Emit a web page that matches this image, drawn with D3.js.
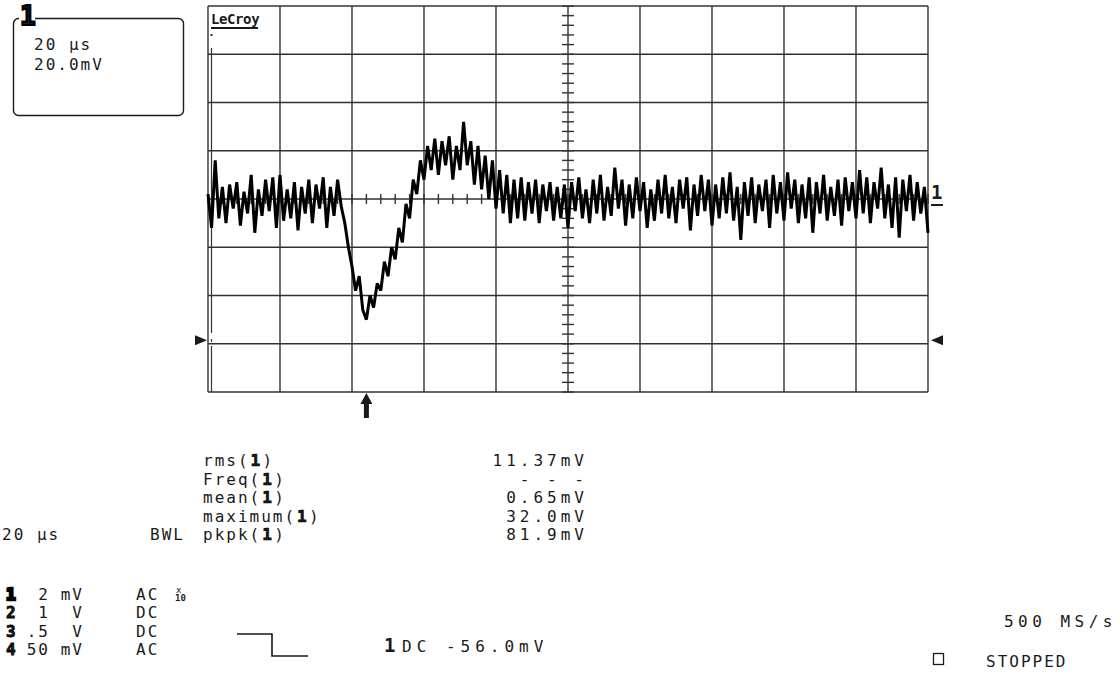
<!DOCTYPE html>
<html>
<head>
<meta charset="utf-8">
<script src="https://cdn.jsdelivr.net/npm/d3@7"></script>
<style>
  body { margin: 0; background: #fff; }
  svg text { font-family: "DejaVu Sans Mono", monospace; font-size: 16px; fill: #1a1a1a; letter-spacing: 2px; }
  .b { font-weight: bold; }
  .wide { letter-spacing: 4px; }
</style>
</head>
<body>
<svg id="scope" width="1120" height="679"></svg>
<script>
// Channel 1 trace in mV, one sample per µs, 0..200 µs
const trace = [
  2, -12, 16, -8, 5, -10, 6, -4, 7, -11,
  3, -6, 10, -14, 4, -7, 8, -5, 9, -12,
  10, -9, 4, -8, 7, -13, 5, -6, 8, -10,
  6, -4, 9, -12, 5, -7, 8, -3,
  -10, -20, -28, -38, -32, -46, -50,
  -40, -45, -35, -38, -26, -32, -20, -25, -12, -18,
  -2, -8, 8, 2, 16, 8, 22, 12, 25, 10,
  24, 14, 26, 8, 22, 12, 32, 14, 24, 6,
  22, 4, 18, 0, 16, -4, 12, -6, 10, -10,
  8, -8, 9, -9, 7, -6, 8, -10, 6, -5,
  7, -9, 5, -8, 6,
  -12, 7, -5, 9, -8, 4, -10, 8, -6, 10,
  -9, 5, -7, 13, -4, 8, -11, 6, -8, 9,
  -5, 7, -12, 4, -9, 8, -6, 10, -8, 5,
  -10, 8, -4, 9, -13, 6, -7, 10, -5, 8,
  -11, 6, -8, 9, -6, 11, -9, 5, -17, 7,
  -7, 9, -10, 6, -5, 8, -12, 10, -6, 7,
  -9, 11, -4, 8, -10, 6, -8, 9, -14, 7,
  -6, 10, -9, 5, -7, 8, -11, 9, -5, 7,
  -8, 12, -6, 9, -10, 7, -4, 13, -8, 6,
  -12, 9, -16, 8, -5, 10, -9, 7, -6, 5, -14
];

const timeDiv = 20;        // µs per division
const voltDiv = 20;        // mV per division
const triggerTime = 44;    // µs
const triggerMark = -58.5; // mV, trigger level marker

const measLabels = ['rms', 'Freq', 'mean', 'maximum', 'pkpk'];
const measValues = ['11.37mV', '- - -', '0.65mV', '32.0mV', '81.9mV'];

const chanNames = ['1', '2', '3', '4'];
const chanScale = ['2', '1', '.5', '50'];
const chanUnit = ['mV', 'V', 'V', 'mV'];
const chanCoupling = ['AC', 'DC', 'DC', 'AC'];

const svg = d3.select('#scope');
const ink = '#1a1a1a';

const x = d3.scaleLinear().domain([0, 10 * timeDiv]).range([208, 928]);
const y = d3.scaleLinear().domain([-4 * voltDiv, 4 * voltDiv]).range([392, 6]);

// grid
const grid = svg.append('g').attr('stroke', '#333').attr('stroke-width', 1.4);
grid.selectAll('.vx').data(d3.range(0, 10 * timeDiv + 1, timeDiv)).enter().append('line')
  .attr('x1', d => x(d)).attr('x2', d => x(d)).attr('y1', y(80)).attr('y2', y(-80));
grid.selectAll('.hy').data(d3.range(-4 * voltDiv, 4 * voltDiv + 1, voltDiv)).enter().append('line')
  .attr('x1', x(0)).attr('x2', x(200)).attr('y1', d => y(d)).attr('y2', d => y(d));

// inner left border (trace position strip)
[[48, 333], [339, 342], [346, 392]].forEach(([a, b]) => {
  grid.append('line').attr('x1', 211.5).attr('x2', 211.5).attr('y1', a).attr('y2', b).attr('stroke-width', 1.2);
});
grid.append('rect').attr('x', 210.5).attr('y', 34).attr('width', 2).attr('height', 2).attr('fill', '#333').attr('stroke', 'none');

// minor ticks on the centre lines
const cx = x(100), cy = y(0);
grid.selectAll('.mt').data(d3.range(0, 201, timeDiv / 5)).enter().append('line')
  .attr('x1', d => x(d)).attr('x2', d => x(d)).attr('y1', cy - 5).attr('y2', cy + 5);
grid.selectAll('.mv').data(d3.range(-80, 81, voltDiv / 5)).enter().append('line')
  .attr('y1', d => y(d)).attr('y2', d => y(d)).attr('x1', cx - 6).attr('x2', cx + 6);

// trace
const line = d3.line().x((d, i) => x(i)).y(d => y(d));
svg.append('path').datum(trace)
  .attr('d', line).attr('fill', 'none').attr('stroke', '#000')
  .attr('stroke-width', 3).attr('stroke-linejoin', 'miter').attr('stroke-miterlimit', 2);

// channel marker at right
svg.append('text').attr('x', 931).attr('y', 199).attr('class', 'b')
  .style('font-size', '19px').style('letter-spacing', '0').text('1');
svg.append('line').attr('x1', 931).attr('x2', 943).attr('y1', 205).attr('y2', 205)
  .attr('stroke', ink).attr('stroke-width', 2);

// trigger level markers
const ty = y(triggerMark);
svg.append('path').attr('d', `M195,${ty - 5}L207,${ty}L195,${ty + 5}Z`).attr('fill', ink);
svg.append('path').attr('d', `M943,${ty - 5}L931,${ty}L943,${ty + 5}Z`).attr('fill', ink);

// trigger time arrow
const tx = x(triggerTime);
svg.append('path')
  .attr('d', `M${tx},393L${tx + 6},404L${tx + 2.5},404L${tx + 2.5},418L${tx - 2.5},418L${tx - 2.5},404L${tx - 6},404Z`)
  .attr('fill', ink);

// LeCroy label
svg.append('text').attr('x', 211).attr('y', 24).attr('class', 'b')
  .style('font-size', '14px').style('letter-spacing', '-0.4px').text('LeCroy');
svg.append('line').attr('x1', 211).attr('x2', 258).attr('y1', 28).attr('y2', 28)
  .attr('stroke', ink).attr('stroke-width', 2);

// zoom box at top-left
svg.append('rect').attr('x', 13.5).attr('y', 18.5).attr('width', 170).attr('height', 97).attr('rx', 5)
  .attr('fill', 'none').attr('stroke', ink).attr('stroke-width', 1.4);
svg.append('rect').attr('x', 19).attr('y', 2).attr('width', 16).attr('height', 25).attr('fill', '#fff');
svg.append('text').attr('x', 20).attr('y', 25).attr('class', 'b')
  .style('font-size', '26px').style('letter-spacing', '0')
  .attr('stroke', '#000').attr('stroke-width', 2.2).text('1');
svg.append('text').attr('x', 34).attr('y', 50).text(`${timeDiv} µs`);
svg.append('text').attr('x', 34).attr('y', 70).text(`${voltDiv.toFixed(1)}mV`);

// measurements
const charW = 11.63;
const rowY = d3.scaleLinear().domain([0, 4]).range([466, 540]);
measLabels.forEach((m, i) => {
  const x0 = 203, x1 = x0 + (m.length + 1) * charW + 1;
  svg.append('text').attr('x', x0).attr('y', rowY(i)).text(m + '(');
  svg.append('text').attr('x', x1).attr('y', rowY(i)).attr('class', 'b')
    .style('font-size', '16px').style('letter-spacing', '0')
    .attr('stroke', '#000').attr('stroke-width', 0.7).text('1');
  svg.append('text').attr('x', x1 + 12).attr('y', rowY(i)).text(')');
  svg.append('text').attr('x', 588).attr('y', rowY(i)).attr('class', 'wide')
    .attr('text-anchor', 'end').text(measValues[i]);
});

// timebase / bandwidth
svg.append('text').attr('x', 2).attr('y', rowY(4)).text(`${timeDiv} µs`);
svg.append('text').attr('x', 150).attr('y', rowY(4)).text('BWL');

// channel setup list
const chY = d3.scaleLinear().domain([0, 3]).range([600, 655]);
chanNames.forEach((c, i) => {
  const yy = chY(i);
  svg.append('text').attr('x', 6).attr('y', yy).attr('class', 'b')
    .attr('stroke', '#000').attr('stroke-width', i === 0 ? 2.5 : 0.8).style('letter-spacing', '0').text(c);
  svg.append('text').attr('x', 50).attr('y', yy).attr('text-anchor', 'end').text(chanScale[i]);
  svg.append('text').attr('x', 84).attr('y', yy).attr('text-anchor', 'end').text(chanUnit[i]);
  svg.append('text').attr('x', 136).attr('y', yy).text(chanCoupling[i]);
});
// probe attenuation on channel 1
svg.append('text').attr('x', 176).attr('y', 593).style('font-size', '9px').style('letter-spacing', '0').text('x');
svg.append('text').attr('x', 175).attr('y', 601).style('font-size', '9px').style('letter-spacing', '0').attr('class', 'b').text('10');

// trigger setup
svg.append('path').attr('d', 'M237,634H272V656H308').attr('fill', 'none').attr('stroke', ink).attr('stroke-width', 1.6);
svg.append('text').attr('x', 384).attr('y', 652).attr('class', 'b')
  .style('font-size', '19px').style('letter-spacing', '0').text('1');
svg.append('text').attr('x', 402).attr('y', 652).style('letter-spacing', '5px').text('DC -56.0mV');

// acquisition status
svg.append('text').attr('x', 1117).attr('y', 627).style('letter-spacing', '4.5px').attr('text-anchor', 'end').text('500 MS/s');
svg.append('rect').attr('x', 933.5).attr('y', 653.5).attr('width', 10).attr('height', 11)
  .attr('fill', 'none').attr('stroke', ink).attr('stroke-width', 1.3);
svg.append('text').attr('x', 986).attr('y', 667).text('STOPPED');
</script>
</body>
</html>
